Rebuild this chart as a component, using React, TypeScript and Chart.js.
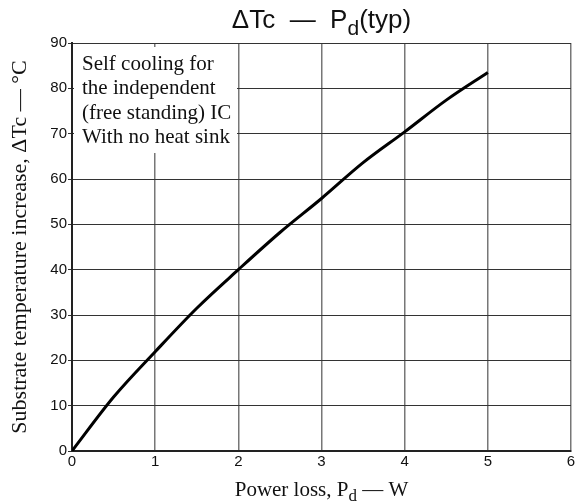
import React, { useEffect, useRef } from "react";
import { Chart, registerables } from "chart.js";

Chart.register(...registerables);

const powerLoss = [0, 0.5, 1, 1.5, 2, 2.5, 3, 3.5, 4, 4.5, 5];
const tempRise = [0, 11.9, 21.9, 31.5, 40, 48.2, 55.7, 63.6, 70.4, 77.4, 83.5];
const xTicks = [0, 1, 2, 3, 4, 5, 6];
const yTicks = [0, 10, 20, 30, 40, 50, 60, 70, 80, 90];
const noteLines = ["Self cooling for", "the independent", "(free standing) IC", "With no heat sink"];
const titleParts = [{ t: "\u0394Tc  \u2014  P" }, { t: "d", sub: true }, { t: "(typ)" }];
const xTitleParts = [{ t: "Power loss, P" }, { t: "d", sub: true }, { t: " \u2014 W" }];
const yTitle = "Substrate temperature increase, \u0394Tc \u2014 \u00B0C";

type Part = { t: string; sub?: boolean };

function drawParts(ctx: CanvasRenderingContext2D, parts: Part[], cx: number, cy: number, family: string, size: number) {
  const subSize = Math.round(size * 0.8);
  let total = 0;
  const widths = parts.map((p) => {
    ctx.font = `${p.sub ? subSize : size}px ${family}`;
    const w = ctx.measureText(p.t).width;
    total += w;
    return w;
  });
  let x = cx - total / 2;
  ctx.textBaseline = "middle";
  ctx.textAlign = "left";
  parts.forEach((p, i) => {
    ctx.font = `${p.sub ? subSize : size}px ${family}`;
    ctx.fillText(p.t, x, p.sub ? cy + size * 0.3 : cy);
    x += widths[i];
  });
}

const SERIF = "'Liberation Serif', 'Times New Roman', serif";
const SANS = "'Liberation Sans', Arial, sans-serif";

const textPlugin = {
  id: "textPlugin",
  beforeDatasetsDraw(chart: any) {
    const ctx = chart.ctx as CanvasRenderingContext2D;
    const area = chart.chartArea;
    ctx.save();
    ctx.fillStyle = "#ffffff";
    ctx.fillRect(area.left + 2, area.top + 4, 163, 106);
    ctx.fillStyle = "#111";
    ctx.font = `21px ${SERIF}`;
    ctx.textAlign = "left";
    ctx.textBaseline = "middle";
    noteLines.forEach((l, i) => {
      ctx.fillText(l, area.left + 10, area.top + 21 + i * 24.5);
    });
    ctx.restore();
  },
  afterDraw(chart: any) {
    const ctx = chart.ctx as CanvasRenderingContext2D;
    const area = chart.chartArea;
    const cx = (area.left + area.right) / 2;
    const cy = (area.top + area.bottom) / 2;
    ctx.save();
    ctx.fillStyle = "#111";
    drawParts(ctx, titleParts, cx, 21, SANS, 26);
    drawParts(ctx, xTitleParts, cx, 490, SERIF, 21);
    ctx.translate(20, cy);
    ctx.rotate(-Math.PI / 2);
    ctx.font = `22px ${SERIF}`;
    ctx.textAlign = "center";
    ctx.textBaseline = "middle";
    ctx.fillText(yTitle, 0, 0);
    ctx.restore();
  },
};

export default function App() {
  const ref = useRef<HTMLCanvasElement | null>(null);
  useEffect(() => {
    if (!ref.current) return;
    const chart = new Chart(ref.current, {
      type: "scatter",
      data: {
        datasets: [
          {
            data: powerLoss.map((x, i) => ({ x, y: tempRise[i] })),
            showLine: true,
            borderColor: "#000",
            borderWidth: 3,
            pointRadius: 0,
            cubicInterpolationMode: "monotone",
          } as any,
        ],
      },
      options: {
        animation: false,
        responsive: false,
        layout: { padding: { left: 0, right: 14, top: 43, bottom: 0 } },
        plugins: { legend: { display: false }, tooltip: { enabled: false } },
        scales: {
          x: {
            type: "linear",
            min: 0,
            max: 6,
            afterBuildTicks: (s: any) => {
              s.ticks = xTicks.map((v) => ({ value: v }));
            },
            afterFit: (s: any) => {
              s.height = 53;
            },
            ticks: {
              color: "#111",
              font: { family: SANS, size: 15 },
              padding: 2,
              maxRotation: 0,
            },
            grid: { color: "#777", lineWidth: 1.5, drawTicks: false },
            border: { color: "#222", width: 2 },
          },
          y: {
            type: "linear",
            min: 0,
            max: 90,
            afterBuildTicks: (s: any) => {
              s.ticks = yTicks.map((v) => ({ value: v }));
            },
            afterFit: (s: any) => {
              s.width = 72;
            },
            ticks: {
              color: "#111",
              font: { family: SANS, size: 15 },
              padding: 1,
            },
            grid: { color: "#333", lineWidth: 1, tickLength: 4, tickColor: "#333" },
            border: { color: "#222", width: 2 },
          },
        },
      },
      plugins: [textPlugin],
    });
    return () => chart.destroy();
  }, []);
  return (
    <div style={{ position: "fixed", left: 0, top: 0, width: 585, height: 504, background: "#fff" }}>
      <canvas ref={ref} width={585} height={504} />
    </div>
  );
}
